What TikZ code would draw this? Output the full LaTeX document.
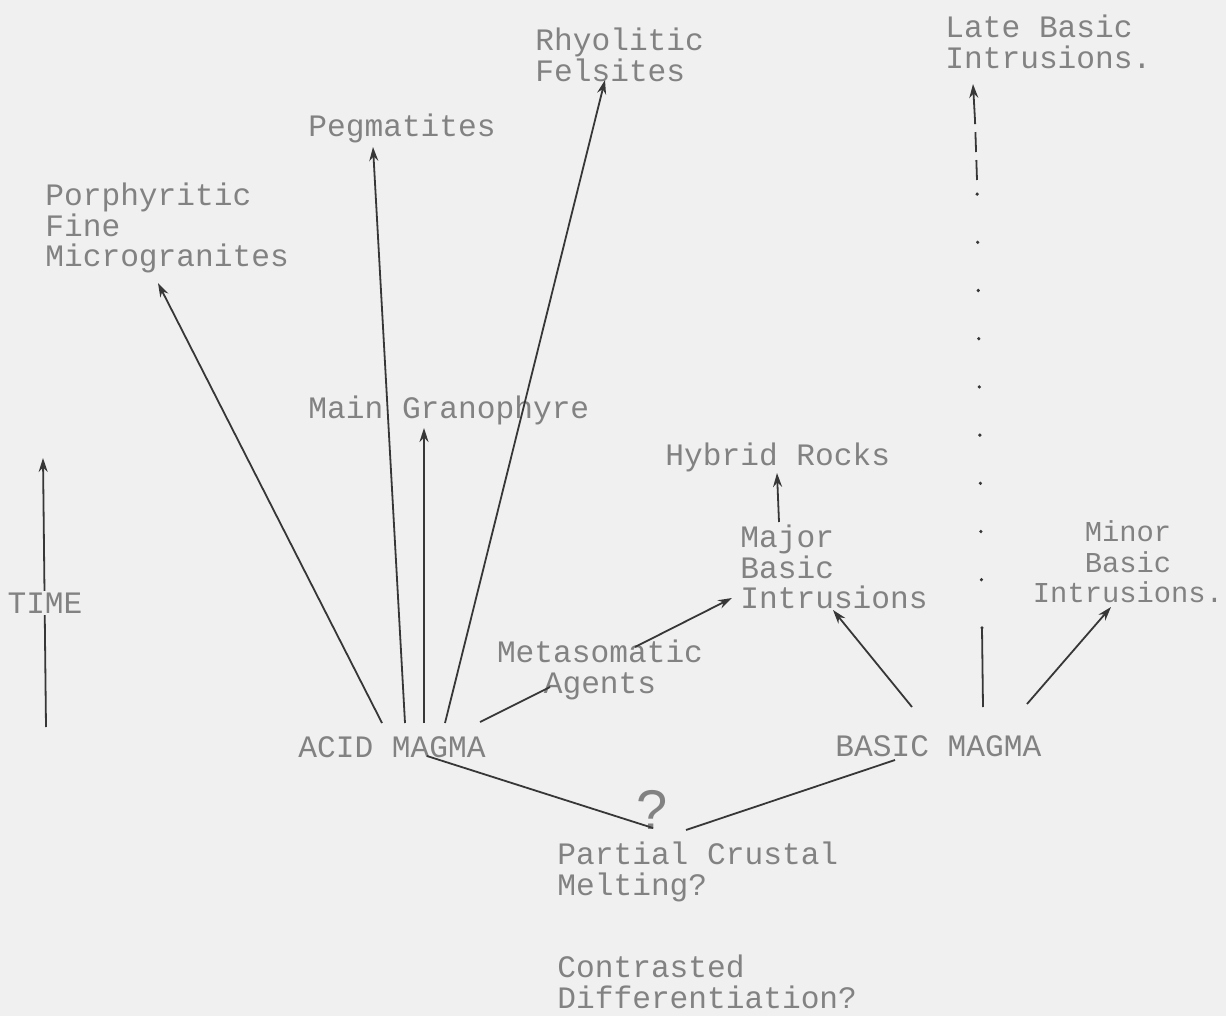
\documentclass[tikz,border=0pt]{standalone}
\usepackage{fontspec}
\setmonofont{Liberation Mono}
\newfontfamily\qfont{Liberation Sans}
\usetikzlibrary{positioning,calc,arrows.meta}
\definecolor{paper}{RGB}{240,240,240}
\definecolor{ink}{RGB}{55,55,55}
\definecolor{type}{RGB}{130,130,130}
\tikzset{
  lbl/.style={inner sep=0pt, text=type, font=\ttfamily\fontsize{15.6}{15.3}\selectfont},
  arr/.style={draw=ink, line width=0.9pt, -{Stealth[length=7pt,width=4.5pt]}},
  ln/.style={draw=ink, line width=0.9pt},
}
\begin{document}
\begin{tikzpicture}[x=0.5pt,y=-0.5pt]
\fill[paper] (0,0) rectangle (1226,1016);
\useasboundingbox (0,0) rectangle (1226,1016);

% labels
\node[lbl, anchor=west, align=left] (porph) at (45,228) {Porphyritic\\Fine\\Microgranites};
\node[lbl, anchor=west] (pegm) at (308,128) {Pegmatites};
\node[lbl, anchor=west, align=left] (rhyo) at (535,55) {Rhyolitic\\Felsites};
\node[lbl, anchor=west, align=left] (late) at (945,42) {Late Basic\\Intrusions.};
\node[lbl, anchor=west] (gran) at (308,410) {Main Granophyre};
\node[lbl, anchor=west] (hybrid) at (665,457) {Hybrid Rocks};
\node[lbl, anchor=west, align=left] (major) at (740,567) {Major\\Basic\\Intrusions};
\node[lbl, align=center, font=\ttfamily\fontsize{14.4}{15.3}\selectfont] (minor) at (1128,562) {Minor\\Basic\\Intrusions.};
\node[lbl, align=center] (meta) at (600,670) {Metasomatic\\Agents};
\node[lbl] (acid) at (392,747) {ACID MAGMA};
\node[lbl, anchor=west] (basic) at (835,746) {BASIC MAGMA};
\node[lbl, font=\qfont\fontsize{28}{28}\selectfont] (quest) at (652,810) {?};
\node[lbl, anchor=west, align=left] (partial) at (557,872) {Partial Crustal\\Melting?};
\node[lbl, anchor=west, align=left] (contr) at (557,982) {Contrasted\\Differentiation?};

% connector ends
\coordinate (a1) at (382,723);
\coordinate (a2) at (405,723);
\coordinate (a3) at (424,723);
\coordinate (a4) at (445,723);
\coordinate (a5) at (480,722);
\coordinate (a6) at (427,756);
\coordinate (porphtip) at (158,283);
\coordinate (pegmtip) at (373,147);
\coordinate (grantip) at (424,428);
\coordinate (rhyotip) at (605,80);
\coordinate (agentsin) at (550,687);
\coordinate (metaout) at (635,647);
\coordinate (majortip) at (732,598);
\coordinate (majortop) at (779,522);
\coordinate (hybridtip) at (777,473);
\coordinate (b1) at (912,707);
\coordinate (majorin) at (833,610);
\coordinate (b2) at (1027,704);
\coordinate (minortip) at (1111,607);
\coordinate (b3) at (895,760);
\coordinate (qleft) at (653,828);
\coordinate (qright) at (686,830);
\coordinate (lb0) at (983,707);
\coordinate (lb1) at (982,628);
\coordinate (lb2) at (977,180);
\coordinate (lb3) at (975,120);
\coordinate (latetip) at (973,84);
\coordinate (timebot) at (46,727);
\coordinate (timetop) at (43,458);

% acid magma fan
\draw[arr] (a1) -- (porphtip);
\draw[arr] (a2) -- (pegmtip);
\draw[arr] (a3) -- (grantip);
\draw[arr] (a4) -- (rhyotip);
\draw[ln] (a5) -- (agentsin);
\draw[arr] (metaout) -- (majortip);
\draw[arr] (majortop) -- (hybridtip);

% basic magma
\draw[arr] (b1) -- (majorin);
\draw[arr] (b2) -- (minortip);
\draw[ln] (lb0) -- (lb1);
\draw[ln, line width=1.7pt, line cap=round, dash pattern=on 0.1pt off 24pt] (lb1) -- (lb2);
\draw[ln, dash pattern=on 10pt off 4pt] (lb2) -- (lb3);
\draw[arr] (lb3) -- (latetip);

% origin
\draw[ln] (a6) -- (qleft);
\draw[ln] (qright) -- (b3);

% time axis
\draw[arr] (timebot) -- (timetop);
\node[lbl, fill=paper, inner sep=1pt] (time) at (45,603) {TIME};
\end{tikzpicture}
\end{document}
